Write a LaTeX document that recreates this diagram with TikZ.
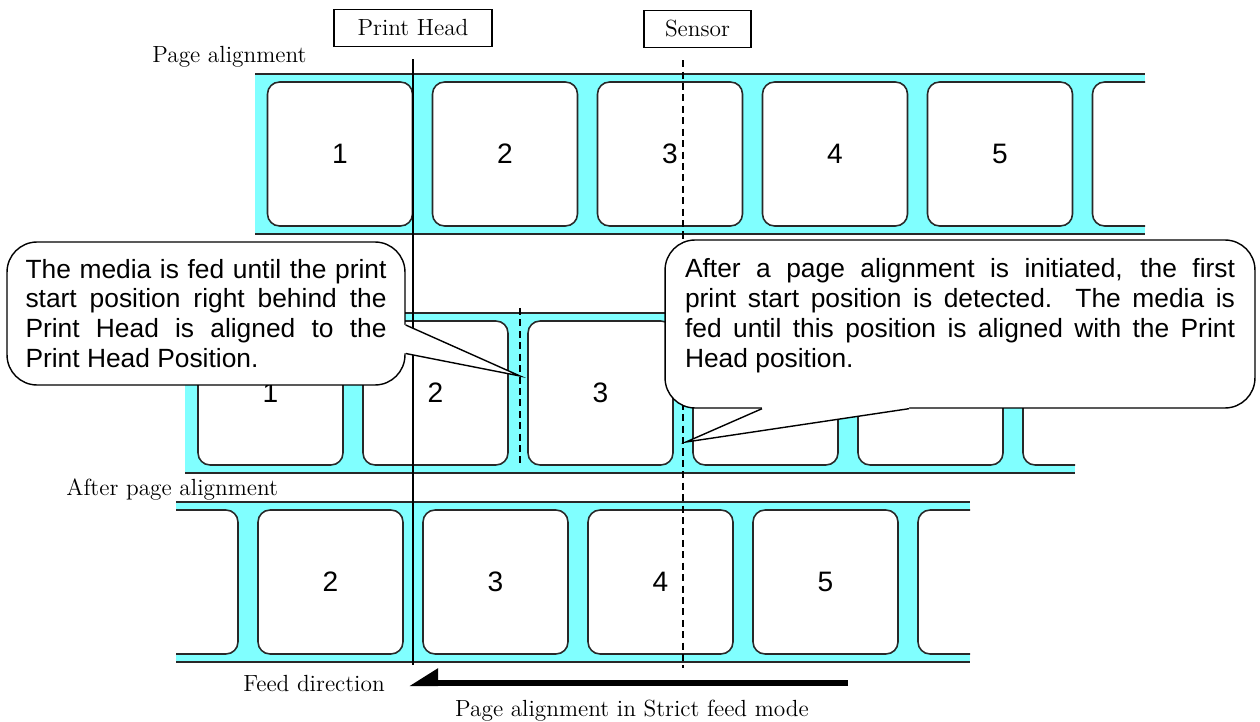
\documentclass[tikz,border=0pt]{standalone}
\usepackage{fontspec}
\usepackage{xcolor}
\usepackage{tikz}
\usetikzlibrary{arrows.meta,positioning,calc}
\newfontfamily\gothic{Liberation Sans}
\definecolor{liner}{RGB}{128,255,255}
\definecolor{edgegray}{RGB}{40,40,40}
\tikzset{
  roll/.style={fill=liner},
  rolledge/.style={draw=edgegray,line width=1.2pt},
  tag/.style={rectangle,rounded corners=0.24cm,draw=edgegray,line width=0.9pt,fill=white,
              minimum width=2.9cm,minimum height=2.88cm,inner sep=0pt,font=\gothic\fontsize{16}{18}\selectfont},
  unitbox/.style={rectangle,draw=black,line width=0.8pt,fill=white,minimum height=0.74cm,inner sep=0pt,
              font=\fontsize{13.3}{15}\selectfont},
  captxt/.style={font=\fontsize{13.3}{15}\selectfont,inner sep=0pt},
  note/.style={rectangle,rounded corners=0.6cm,draw=black,line width=0.8pt,fill=white,align=left,
              inner sep=0pt,font=\gothic\fontsize{15}{17}\selectfont},
  headline/.style={draw=black,line width=0.7pt},
  senseline/.style={draw=black,line width=0.7pt,dash pattern=on 4pt off 2.5pt},
  tail/.style={draw=black,line width=0.8pt,line join=miter},
  feed/.style={draw=black,line width=0.12cm,-{Triangle[right,length=0.48cm,width=0.56cm]}},
}

\begin{document}
\begin{tikzpicture}[x=0.02cm,y=-0.02cm]
  \useasboundingbox (0,0) rectangle (1260,722);

  \begin{scope}
    \clip (255,74) rectangle (1145,234);
    \fill[roll] (255,74) rectangle (1145,234);
    \foreach \k/\t in {0/1,1/2,2/3,3/4,4/5,5/{}}
      \node[tag] (top\k) at ({340+165*\k},154) {\t};
  \end{scope}
  \draw[rolledge] (255,74) -- (1145,74) (255,234) -- (1145,234);

  \begin{scope}
    \clip (185,313) rectangle (1075,473);
    \fill[roll] (185,313) rectangle (1075,473);
    \foreach \k/\t in {0/1,1/2,2/3,3/{},4/{},5/{}}
      \node[tag] (mid\k) at ({270.5+165*\k},393) {\t};
  \end{scope}
  \draw[rolledge] (185,313) -- (1075,313) (185,473) -- (1075,473);

  \begin{scope}
    \clip (176,502) rectangle (970,662);
    \fill[roll] (176,502) rectangle (970,662);
    \foreach \k/\t in {0/{},1/2,2/3,3/4,4/5,5/{}}
      \node[tag] (bot\k) at ({165.5+165*\k},582) {\t};
  \end{scope}
  \draw[rolledge] (176,502) -- (970,502) (176,662) -- (970,662);

  \node[unitbox,minimum width=3.16cm] (head) at (413,28) {Print Head};
  \node[unitbox,minimum width=2.14cm] (sensor) at (697.5,29) {Sensor};
  \coordinate (headEnd) at (413,665);
  \coordinate (senseEnd) at (683,668);
  \coordinate (gapTop) at (520,308);
  \coordinate (gapBot) at (520,465);
  \draw[headline] ($(head.south)+(0,12)$) -- (headEnd);
  \draw[senseline] ($(sensor.south -| senseEnd)+(0,12)$) -- (senseEnd);
  \draw[senseline] (gapTop) -- (gapBot);

  \node[note,minimum width=7.96cm,minimum height=2.86cm] (noteL) at (206,313.5)
    {\makebox[7.22cm][s]{The media is fed until the print}\\
     \makebox[7.22cm][s]{start position right behind the}\\
     \makebox[7.22cm][s]{Print Head is aligned to the}\\
     Print Head Position.};
  \node[note,minimum width=11.8cm,minimum height=3.36cm] (noteR) at (960,324)
    {\makebox[11cm][s]{After a page alignment is initiated, the first}\\
     \makebox[11cm][s]{print start position is detected.\ \ The media is}\\
     \makebox[11cm][s]{fed until this position is aligned with the Print}\\
     Head position.\rule[-0.45cm]{0pt}{0.45cm}};

  \coordinate (tipL) at (520,376);
  \coordinate (tipR) at (686,442);
  \fill[white] ($(noteL.east)+(-4,11.5)$) -- ($(noteL.east)+(0.5,11.5)$) -- (tipL)
    -- ($(noteL.east)+(0.5,40)$) -- ($(noteL.east)+(-4,40)$) -- cycle;
  \draw[tail] ($(noteL.east)+(0,11.5)$) -- (tipL) -- ($(noteL.east)+(0,40)$);
  \fill[white] ($(noteR.south)+(-198,-4)$) -- ($(noteR.south)+(-198,0.5)$) -- (tipR)
    -- ($(noteR.south)+(-51,0.5)$) -- ($(noteR.south)+(-51,-4)$) -- cycle;
  \draw[tail] ($(noteR.south)+(-198,0)$) -- (tipR) -- ($(noteR.south)+(-51,0)$);

  \node[captxt,anchor=west] (pageTop) at (152,57) {Page alignment};
  \node[captxt,anchor=west] (pageAfter) at (66,490) {After page alignment};
  \node[captxt,anchor=west] (feedText) at (243,684) {Feed direction};
  \node[captxt] (modeText) at (632,711) {Page alignment in Strict feed mode};

  \coordinate (feedR) at (848,683);
  \coordinate (feedL) at (409,683);
  \draw[feed] (feedR) -- (feedL);
\end{tikzpicture}
\end{document}
